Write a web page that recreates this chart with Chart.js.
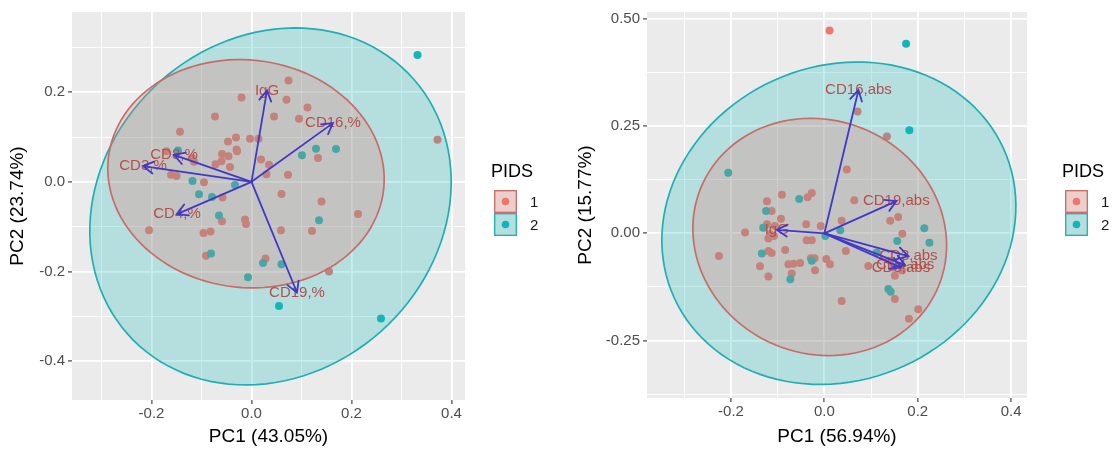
<!DOCTYPE html>
<html>
<head>
<meta charset="utf-8">
<script src="https://cdn.jsdelivr.net/npm/chart.js@4.4.0/dist/chart.umd.min.js"></script>
<style>
  body { margin: 0; background: #fff; }
  #wrap { position: relative; width: 1120px; height: 450px; }
  canvas { position: absolute; top: 0; }
</style>
</head>
<body>
<div id="wrap">
  <canvas id="pcaLeft" width="560" height="450" style="left:0"></canvas>
  <canvas id="pcaRight" width="560" height="450" style="left:560px"></canvas>
</div>
<script>
// ---- data ----
const pidsGroups = ['1', '2'];

// left biplot: PC scores [PC1, PC2]
const leftPids1 = [
  [0.074,0.226],[-0.020,0.188],[0.070,0.183],[0.112,0.166],[0.045,0.146],[-0.073,0.146],[0.095,0.141],
  [-0.143,0.112],[-0.031,0.099],[-0.047,0.090],[-0.003,0.096],[0.014,0.096],[-0.030,0.072],[-0.029,0.068],
  [-0.059,0.062],[-0.046,0.057],[0.019,0.050],[0.133,0.053],[-0.072,0.039],[-0.060,0.046],[-0.043,0.033],
  [0.035,0.038],[-0.170,0.068],[-0.119,0.053],[-0.115,0.045],[-0.161,0.016],[-0.150,0.013],[0.030,0.017],
  [0.073,0.016],[-0.095,-0.001],[0.060,-0.027],[-0.058,-0.035],[0.140,-0.044],[0.213,-0.072],[-0.059,-0.088],
  [-0.013,-0.084],[-0.011,-0.094],[-0.205,-0.108],[-0.096,-0.114],[-0.082,-0.111],[0.059,-0.108],
  [0.121,-0.110],[-0.091,-0.165],[0.028,-0.171],[0.155,-0.200],[0.372,0.094]
];
const leftPids2 = [
  [0.332,0.283],[0.129,0.074],[0.169,0.073],[0.101,0.059],[-0.147,0.070],[-0.118,0.002],[-0.105,-0.028],
  [-0.079,-0.034],[-0.033,-0.007],[-0.065,-0.075],[0.135,-0.086],[-0.081,-0.160],[0.023,-0.181],
  [0.060,-0.184],[-0.007,-0.213],[0.055,-0.277],[0.259,-0.305]
];
const leftVarNames = ['IgG', 'CD16,%', 'CD8,%', 'CD3,%', 'CD4,%', 'CD19,%'];
const leftVarPC1 = [0.031, 0.163, -0.155, -0.217, -0.149, 0.091];
const leftVarPC2 = [0.204, 0.131, 0.060, 0.035, -0.072, -0.247];
// ellipses: [centre PC1, centre PC2, semi-axis a, semi-axis b, angle deg]
const leftEllipse1 = [-0.011, 0.018, 0.278, 0.253, -15];
const leftEllipse2 = [0.038, -0.055, 0.411, 0.347, 62.7];
const leftXTickLabels = ['-0.2', '0.0', '0.2', '0.4'];
const leftYTickLabels = ['-0.4', '-0.2', '0.0', '0.2'];

// right biplot
const rightPids1 = [
  [0.011,0.473],[0.071,0.284],[0.134,0.226],[0.048,0.149],[0.064,0.077],[-0.091,0.090],[-0.036,0.084],
  [-0.027,0.094],[-0.123,0.075],[-0.113,0.052],[-0.093,0.034],[-0.123,0.021],[-0.106,0.017],[-0.170,0.002],
  [-0.116,-0.002],[-0.120,-0.012],[-0.108,-0.006],[-0.039,0.021],[-0.008,0.017],[-0.038,-0.016],
  [-0.027,-0.016],[-0.084,-0.039],[-0.120,-0.041],[-0.113,-0.046],[-0.226,-0.053],[-0.138,-0.077],
  [-0.077,-0.072],[-0.066,-0.071],[-0.052,-0.069],[-0.029,-0.058],[-0.021,-0.058],[-0.020,-0.086],
  [0.004,-0.060],[0.012,-0.072],[-0.120,-0.101],[-0.070,-0.094],[0.037,0.029],[0.046,-0.041],[0.141,0.029],
  [0.158,0.038],[0.167,-0.001],[0.094,-0.076],[0.151,-0.099],[0.141,-0.064],[0.166,-0.087],[0.148,-0.080],
  [0.151,-0.153],[0.201,-0.177],[0.181,-0.199],[0.037,-0.158]
];
const rightPids2 = [
  [0.175,0.442],[0.182,0.240],[-0.206,0.141],[-0.054,0.080],[-0.125,0.052],[-0.131,0.013],[-0.134,-0.047],
  [-0.073,-0.107],[-0.027,-0.064],[0.002,-0.006],[0.034,0.007],[0.214,0.012],[0.225,-0.022],[0.156,-0.018],
  [0.112,-0.045],[0.137,-0.130],[0.142,-0.136]
];
const rightVarNames = ['CD16,abs', 'CD19,abs', 'IgG', 'CD3,abs', 'CD4,abs', 'CD8,abs'];
const rightVarPC1 = [0.073, 0.154, -0.102, 0.180, 0.173, 0.164];
const rightVarPC2 = [0.334, 0.075, 0.008, -0.053, -0.074, -0.080];
const rightEllipse1 = [-0.010, -0.0085, 0.284, 0.264, -52];
const rightEllipse2 = [0.031, 0.0235, 0.397, 0.357, 42.6];
const rightXTickLabels = ['-0.2', '0.0', '0.2', '0.4'];
const rightYTickLabels = ['-0.25', '0.00', '0.25', '0.50'];

// ---- styling ----
const FONT = "'Liberation Sans', Arial, Helvetica, sans-serif";
const PANEL = '#EBEBEB';
const RED = '#EE766C', TEAL = '#12B6BA';
const RED_LINE = '#C86C66', TEAL_LINE = '#1FAFB3';
const ARROW = '#4238C8', VARTEXT = '#B24F4A';

Chart.defaults.font.family = FONT;

function rgba(hex, a) {
  const n = parseInt(hex.slice(1), 16);
  return `rgba(${n >> 16},${(n >> 8) & 255},${n & 255},${a})`;
}

// major ticks from labels plus half-step minor grid lines (no label)
function tickList(labels, min, max) {
  const major = labels.map(Number);
  const step = major[1] - major[0];
  const out = [];
  for (let v = major[0] - step / 2; v <= max + 1e-9; v += step / 2) {
    if (v < min - 1e-9) continue;
    const k = major.findIndex(m => Math.abs(m - v) < 1e-6);
    out.push({ value: v, label: k >= 0 ? labels[k] : '' });
  }
  return out;
}

function drawEllipse(ctx, xs, ys, e, fill, line) {
  const [cx, cy, a, b, deg] = e;
  const th = deg * Math.PI / 180;
  ctx.beginPath();
  for (let i = 0; i <= 120; i++) {
    const t = i / 120 * 2 * Math.PI;
    const u = a * Math.cos(t), v = b * Math.sin(t);
    const px = xs.getPixelForValue(cx + u * Math.cos(th) - v * Math.sin(th));
    const py = ys.getPixelForValue(cy + u * Math.sin(th) + v * Math.cos(th));
    if (i === 0) ctx.moveTo(px, py); else ctx.lineTo(px, py);
  }
  ctx.closePath();
  ctx.fillStyle = fill;
  ctx.fill();
  ctx.strokeStyle = line;
  ctx.lineWidth = 1.7;
  ctx.stroke();
}

function drawArrow(ctx, x0, y0, x1, y1) {
  const ang = Math.atan2(y1 - y0, x1 - x0), len = 12, sp = Math.PI / 6;
  ctx.beginPath();
  ctx.moveTo(x0, y0);
  ctx.lineTo(x1, y1);
  ctx.moveTo(x1 - len * Math.cos(ang - sp), y1 - len * Math.sin(ang - sp));
  ctx.lineTo(x1, y1);
  ctx.lineTo(x1 - len * Math.cos(ang + sp), y1 - len * Math.sin(ang + sp));
  ctx.stroke();
}

function biplotPlugin(p) {
  return {
    id: 'biplot',
    beforeDraw(chart) {
      const { ctx, chartArea: a } = chart;
      ctx.save();
      ctx.fillStyle = PANEL;
      ctx.fillRect(a.left, a.top, a.right - a.left, a.bottom - a.top);
      ctx.restore();
    },
    afterDatasetsDraw(chart) {
      const { ctx, chartArea: a } = chart;
      const xs = chart.scales.x, ys = chart.scales.y;
      ctx.save();
      ctx.beginPath();
      ctx.rect(a.left, a.top, a.right - a.left, a.bottom - a.top);
      ctx.clip();
      drawEllipse(ctx, xs, ys, p.ell2, rgba(TEAL, 0.25), TEAL_LINE);
      drawEllipse(ctx, xs, ys, p.ell1, rgba(RED, 0.25), RED_LINE);

      const ox = xs.getPixelForValue(0), oy = ys.getPixelForValue(0);
      ctx.font = '15px ' + FONT;
      ctx.textAlign = 'center';
      ctx.textBaseline = 'middle';
      ctx.fillStyle = VARTEXT;
      p.names.forEach((n, i) => {
        ctx.fillText(n, xs.getPixelForValue(p.pc1[i]), ys.getPixelForValue(p.pc2[i]));
      });
      ctx.strokeStyle = ARROW;
      ctx.lineWidth = 1.8;
      ctx.lineCap = 'round';
      p.names.forEach((n, i) => {
        drawArrow(ctx, ox, oy, xs.getPixelForValue(p.pc1[i]), ys.getPixelForValue(p.pc2[i]));
      });
      ctx.restore();
    },
    afterDraw(chart) {
      const ctx = chart.ctx, L = p.legend;
      ctx.save();
      ctx.fillStyle = '#000';
      ctx.font = '18px ' + FONT;
      ctx.textAlign = 'left';
      ctx.textBaseline = 'middle';
      ctx.fillText('PIDS', L.x, L.titleY);
      const cols = [[RED, RED_LINE], [TEAL, TEAL_LINE]];
      pidsGroups.forEach((g, i) => {
        const bx = L.x + 3, by = L.top + i * L.size;
        ctx.fillStyle = PANEL;
        ctx.fillRect(bx, by, L.size, L.size);
        ctx.fillStyle = rgba(cols[i][0], 0.25);
        ctx.fillRect(bx, by, L.size, L.size);
        ctx.strokeStyle = cols[i][1];
        ctx.lineWidth = 1.3;
        ctx.strokeRect(bx + 0.7, by + 0.7, L.size - 1.4, L.size - 1.4);
        ctx.beginPath();
        ctx.arc(bx + L.size / 2, by + L.size / 2, 3.8, 0, Math.PI * 2);
        ctx.fillStyle = cols[i][0];
        ctx.fill();
        ctx.fillStyle = '#1a1a1a';
        ctx.font = '15px ' + FONT;
        ctx.fillText(g, bx + L.size + 13, by + L.size / 2 + 1);
      });
      ctx.restore();
    }
  };
}

function makeBiplot(id, p) {
  const toPts = arr => arr.map(([x, y]) => ({ x, y }));
  const gridOpts = {
    color: '#FFFFFF',
    lineWidth: c => (c.tick && c.tick.label === '' ? 0.9 : 1.8),
    tickColor: c => (c.tick && c.tick.label === '' ? 'rgba(0,0,0,0)' : '#333333'),
    tickLength: 4,
    tickWidth: 1.1
  };
  return new Chart(document.getElementById(id), {
    type: 'scatter',
    data: {
      datasets: [
        { label: pidsGroups[1], data: toPts(p.g2), backgroundColor: TEAL, borderWidth: 0, pointRadius: 4 },
        { label: pidsGroups[0], data: toPts(p.g1), backgroundColor: RED, borderWidth: 0, pointRadius: 4 }
      ]
    },
    options: {
      responsive: false,
      animation: false,
      devicePixelRatio: 1,
      layout: { padding: { left: 0, top: 10, right: p.padRight, bottom: 0 } },
      plugins: { legend: { display: false }, tooltip: { enabled: false } },
      scales: {
        x: {
          type: 'linear', min: p.xMin, max: p.xMax,
          afterBuildTicks: s => { s.ticks = tickList(p.xTicks, p.xMin, p.xMax); },
          afterFit: s => { s.height = p.xAxisH; },
          grid: gridOpts,
          border: { display: false },
          ticks: { autoSkip: false, maxRotation: 0, padding: 1, color: '#4D4D4D', font: { size: 15 },
                   callback: (v, i, ticks) => ticks[i].label },
          title: { display: true, text: p.xTitle, color: '#000', font: { size: 19 }, padding: { top: 0, bottom: 1.5 } }
        },
        y: {
          type: 'linear', min: p.yMin, max: p.yMax,
          afterBuildTicks: s => { s.ticks = tickList(p.yTicks, p.yMin, p.yMax); },
          afterFit: s => { s.width = p.yAxisW; },
          grid: gridOpts,
          border: { display: false },
          ticks: { autoSkip: false, padding: 3, color: '#4D4D4D', font: { size: 15 },
                   callback: (v, i, ticks) => ticks[i].label },
          title: { display: true, text: p.yTitle, color: '#000', font: { size: 19 }, padding: { top: p.yTitlePad, bottom: 0 } }
        }
      }
    },
    plugins: [biplotPlugin(p)]
  });
}

makeBiplot('pcaLeft', {
  g1: leftPids1, g2: leftPids2,
  names: leftVarNames, pc1: leftVarPC1, pc2: leftVarPC2,
  ell1: leftEllipse1, ell2: leftEllipse2,
  xTicks: leftXTickLabels, yTicks: leftYTickLabels,
  xMin: -0.359, xMax: 0.427, yMin: -0.487, yMax: 0.379,
  xTitle: 'PC1 (43.05%)', yTitle: 'PC2 (23.74%)',
  padRight: 95, xAxisH: 50, yAxisW: 72, yTitlePad: 6.5,
  legend: { x: 491, titleY: 172, top: 190, size: 23 }
});

makeBiplot('pcaRight', {
  g1: rightPids1, g2: rightPids2,
  names: rightVarNames, pc1: rightVarPC1, pc2: rightVarPC2,
  ell1: rightEllipse1, ell2: rightEllipse2,
  xTicks: rightXTickLabels, yTicks: rightYTickLabels,
  xMin: -0.380, xMax: 0.434, yMin: -0.384, yMax: 0.516,
  xTitle: 'PC1 (56.94%)', yTitle: 'PC2 (15.77%)',
  padRight: 93, xAxisH: 52, yAxisW: 87, yTitlePad: 14.5,
  legend: { x: 502, titleY: 172, top: 190, size: 23 }
});
</script>
</body>
</html>
